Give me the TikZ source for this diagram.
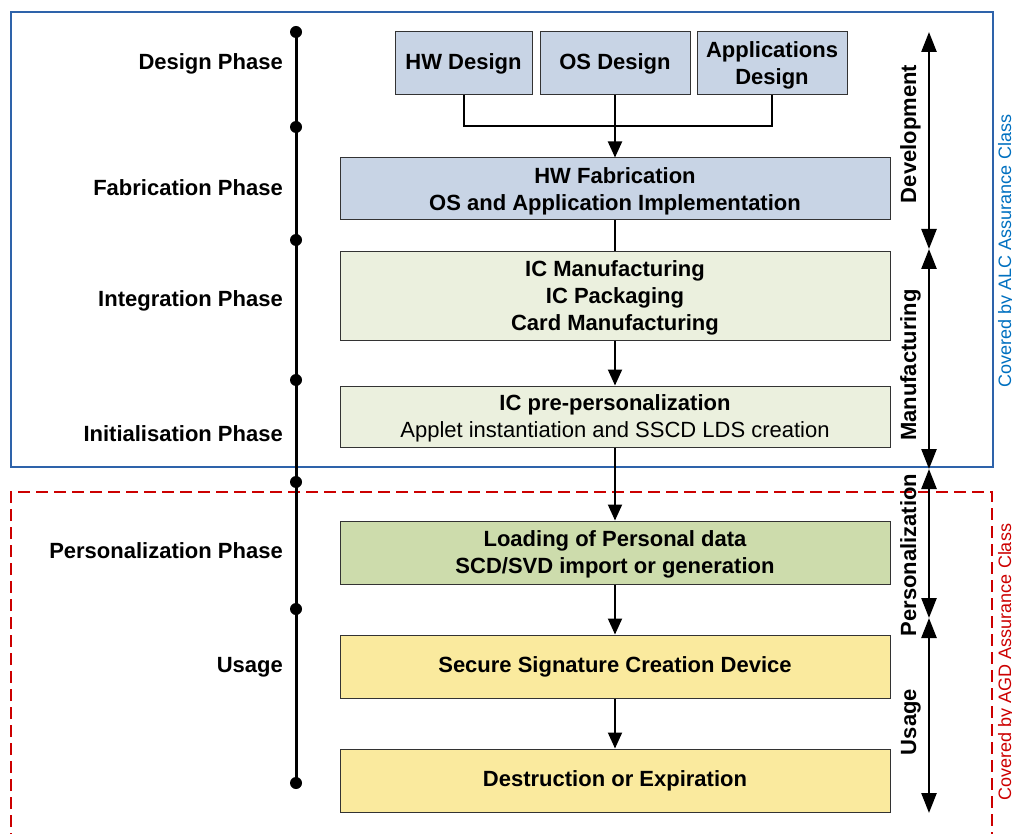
\documentclass[tikz,border=0pt]{standalone}
\usepackage{fontspec}
\setmainfont{Liberation Sans}
\usetikzlibrary{arrows.meta}

\definecolor{designblue}{RGB}{200,212,229}
\definecolor{lightgreen}{RGB}{235,240,222}
\definecolor{midgreen}{RGB}{205,220,172}
\definecolor{paleyellow}{RGB}{250,234,158}
\definecolor{alcblue}{RGB}{46,99,170}
\definecolor{alctext}{RGB}{0,112,192}
\definecolor{agdred}{RGB}{204,0,0}

% full ascent / descent of the 22pt face, so text is centred on the font box
\newcommand\lcTopStrut{\rule{0pt}{19.9pt}}
\newcommand\lcBotStrut{\rule[-4.66pt]{0pt}{0pt}}

\tikzset{
  box/.style={draw=black!80, line width=1pt, rectangle, inner sep=0pt,
    align=center, font=\fontsize{22}{27}\selectfont\bfseries},
  flow/.style={line width=2pt, -{Triangle[length=16pt,width=14pt]}},
  plain/.style={line width=2pt},
  phase/.style={anchor=east, inner sep=0pt, font=\fontsize{22}{27}\selectfont\bfseries,
    execute at begin node=\lcTopStrut, execute at end node=\lcBotStrut},
  stage/.style={rotate=90, anchor=base, font=\fontsize{22}{27}\selectfont\bfseries},
  span/.style={line width=2.5pt, {Triangle[length=20pt,width=15pt]}-{Triangle[length=20pt,width=15pt]}},
  dot/.style={circle, fill=black, inner sep=0pt, minimum size=12pt},
  cover/.style={rotate=90, anchor=base, font=\fontsize{18}{22}\selectfont}
}

\begin{document}
\begin{tikzpicture}[x=1pt, y=-1pt]
\useasboundingbox (0,0) rectangle (1012,834);

% assurance class frames
\draw[alcblue, line width=2pt] (11,12) rectangle (993,467);
\draw[agdred, line width=2.5pt, dash pattern=on 12pt off 6pt]
  (11,845) -- (11,492) -- (992,492) -- (992,845);
\node[cover, text=alctext] (alc) at (1011,251) {Covered by ALC Assurance Class};
\node[cover, text=agdred] (agd) at (1011,662) {Covered by AGD Assurance Class};

% timeline
\coordinate (t1) at (296,32);
\coordinate (t2) at (296,127);
\coordinate (t3) at (296,240);
\coordinate (t4) at (296,380);
\coordinate (t5) at (296,482);
\coordinate (t6) at (296,609);
\coordinate (t7) at (296,783);
\draw[line width=3pt] (t1) -- (t7);
\foreach \t in {t1,t2,t3,t4,t5,t6,t7} \node[dot] at (\t) {};

% phase labels
\node[phase] (pdesign) at (283,62) {Design Phase};
\node[phase] (pfab) at (283,188) {Fabrication Phase};
\node[phase] (pint) at (283,299) {Integration Phase};
\node[phase] (pinit) at (283,434) {Initialisation Phase};
\node[phase] (ppers) at (283,551) {Personalization Phase};
\node[phase] (pusage) at (283,665) {Usage};

% design boxes
\node[box, fill=designblue, minimum width=137pt, minimum height=63pt] (hw) at (463.5,63.5) {HW Design};
\node[box, fill=designblue, minimum width=150pt, minimum height=63pt] (os) at (615,63.5) {OS Design};
\node[box, fill=designblue, minimum width=150pt, minimum height=63pt] (app) at (772,63.5)
  {\lcTopStrut Applications\\Design\lcBotStrut};

% life-cycle boxes
\node[box, fill=designblue, minimum width=550pt, minimum height=62pt] (fab) at (615,189)
  {\lcTopStrut HW Fabrication\\OS and Application Implementation\lcBotStrut};
\node[box, fill=lightgreen, minimum width=550pt, minimum height=88pt] (icm) at (615,296)
  {\lcTopStrut IC Manufacturing\\IC Packaging\\Card Manufacturing\lcBotStrut};
\node[box, fill=lightgreen, minimum width=550pt, minimum height=61pt] (pre) at (615,416.5)
  {\lcTopStrut IC pre-personalization\\\mdseries Applet instantiation and SSCD LDS creation\lcBotStrut};
\node[box, fill=midgreen, minimum width=550pt, minimum height=63pt] (load) at (615,552.5)
  {\lcTopStrut Loading of Personal data\\SCD/SVD import or generation\lcBotStrut};
\node[box, fill=paleyellow, minimum width=550pt, minimum height=63pt] (sscd) at (615,666.5)
  {Secure Signature Creation Device};
\node[box, fill=paleyellow, minimum width=550pt, minimum height=63pt] (dest) at (615,780.5)
  {Destruction or Expiration};

% connectors
\coordinate (hwdown) at (hw.south |- 0,126);
\coordinate (appdown) at (app.south |- 0,126);
\draw[plain] (hw.south) -- (hwdown) -- (appdown) -- (app.south);
\draw[flow] (os.south) -- (fab.north);
\draw[plain] (fab.south) -- (icm.north);
\draw[flow] (icm.south) -- (pre.north);
\draw[flow] (pre.south) -- (load.north);
\draw[flow] (load.south) -- (sscd.north);
\draw[flow] (sscd.south) -- (dest.north);

% life-cycle stages
\coordinate (s0) at (929,32);
\coordinate (s1) at (929,249);
\coordinate (s2) at (929,469);
\coordinate (s3) at (929,618);
\coordinate (s4) at (929,813);
\draw[span] (s0) -- (s1);
\draw[span] (s1) -- (s2);
\draw[span] (s2) -- (s3);
\draw[span] (s3) -- (s4);
\node[stage] (dev) at (916,134) {Development};
\node[stage] (man) at (916,365) {Manufacturing};
\node[stage] (pers) at (916,555) {Personalization};
\node[stage] (use) at (916,722) {Usage};
\end{tikzpicture}
\end{document}
